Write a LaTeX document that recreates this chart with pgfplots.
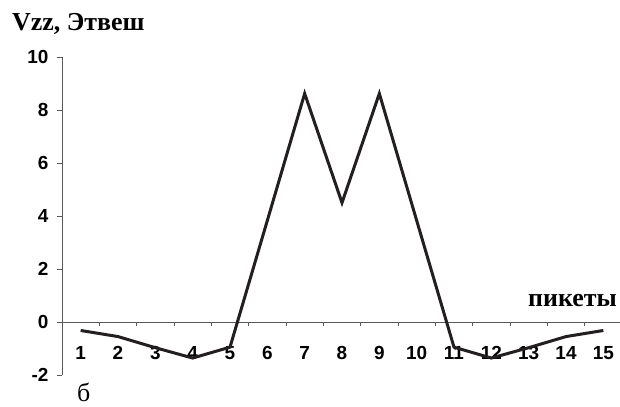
\documentclass[border=0pt]{standalone}
\usepackage{fontspec}
\setmainfont{Liberation Serif}
\setsansfont{Liberation Sans}
\usepackage{pgfplots}
\pgfplotsset{compat=1.18}
\begin{document}
\begin{tikzpicture}
\path[use as bounding box] (0,0) rectangle (620bp,407bp);
\begin{axis}[
  at={(62bp,32bp)}, anchor=south west,
  scale only axis, width=560bp, height=318bp,
  xmin=0.5, xmax=15.5, ymin=-2, ymax=10,
  axis x line=middle, axis y line=left,
  axis line style={-, draw=black!65, line width=0.9bp},
  tick align=outside,
  xtick={1,...,15},
  minor xtick={1.5,2.5,...,14.5},
  ytick={-2,0,...,10},
  major x tick style={draw=none},
  tick style={draw=black!65, line width=0.9bp},
  major tick length=5bp, minor tick length=4bp,
  tick label style={font=\fontsize{19}{20}\selectfont\sffamily\bfseries},
  /pgf/number format/assume math mode=true,
  xticklabel style={yshift=-16bp},
  yticklabel style={xshift=-5bp},
  clip=false,
]
\addplot[line width=3bp, color={rgb,255:red,35;green,31;blue,32}, line join=miter] coordinates {
(1,-0.32) (2,-0.55) (3,-0.97) (4,-1.36) (5,-0.95) (6,3.83) (7,8.62) (8,4.5)
(9,8.62) (10,3.83) (11,-0.95) (12,-1.36) (13,-0.97) (14,-0.55) (15,-0.32)};
\end{axis}
\node[anchor=base west, inner sep=0pt, font=\bfseries\fontsize{26}{27}\selectfont] at (12bp,376bp) {Vzz, Этвеш};
\node[anchor=base east, inner sep=0pt, font=\bfseries\fontsize{26}{27}\selectfont] at (617bp,100bp) {пикеты};
\node[anchor=base west, inner sep=0pt, font=\fontsize{26}{27}\selectfont] at (77bp,6bp) {б};
\end{tikzpicture}
\end{document}
